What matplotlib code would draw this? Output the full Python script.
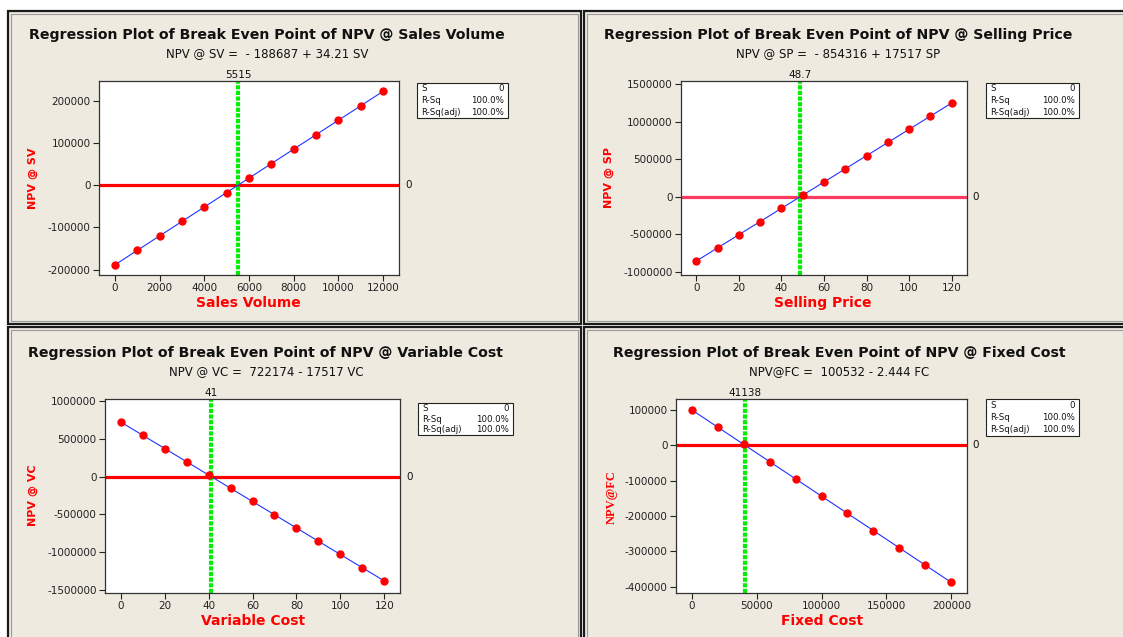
import matplotlib
matplotlib.use("Agg")
import matplotlib.pyplot as plt
from matplotlib.patches import Rectangle
from matplotlib.ticker import FuncFormatter

# break-even regression data
sv_x = [0, 1000, 2000, 3000, 4000, 5000, 6000, 7000, 8000, 9000, 10000, 11000, 12000]
sv_npv = [-188687, -154477, -120267, -86057, -51847, -17637, 16573, 50783,
          84993, 119203, 153413, 187623, 221833]
sv_be = 5515

sp_x = [0, 10, 20, 30, 40, 50, 60, 70, 80, 90, 100, 110, 120]
sp_npv = [-854316, -679146, -503976, -328806, -153636, 21534, 196704, 371874,
          547044, 722214, 897384, 1072554, 1247724]
sp_be = 48.7

vc_x = [0, 10, 20, 30, 40, 50, 60, 70, 80, 90, 100, 110, 120]
vc_npv = [722174, 547004, 371834, 196664, 21494, -153676, -328846, -504016,
          -679186, -854356, -1029526, -1204696, -1379866]
vc_be = 41

fc_x = [0, 20000, 40000, 60000, 80000, 100000, 120000, 140000, 160000, 180000, 200000]
fc_npv = [100532, 51652, 2772, -46108, -94988, -143868, -192748, -241628,
          -290508, -339388, -388268]
fc_be = 41138

titles = ["Regression Plot of Break Even Point of NPV @ Sales Volume",
          "Regression Plot of Break Even Point of NPV @ Selling Price",
          "Regression Plot of Break Even Point of NPV @ Variable Cost",
          "Regression Plot of Break Even Point of NPV @ Fixed Cost"]
equations = ["NPV @ SV =  - 188687 + 34.21 SV",
             "NPV @ SP =  - 854316 + 17517 SP",
             "NPV @ VC =  722174 - 17517 VC",
             "NPV@FC =  100532 - 2.444 FC"]
xlabels = ["Sales Volume", "Selling Price", "Variable Cost", "Fixed Cost"]
ylabels = ["NPV @ SV", "NPV @ SP", "NPV @ VC", "NPV@FC"]
be_labels = ["5515", "48.7", "41", "41138"]
stats_rows = [("S", "0"), ("R-Sq", "100.0%"), ("R-Sq(adj)", "100.0%")]

xticks = [list(range(0, 12001, 2000)), list(range(0, 121, 20)),
          list(range(0, 121, 20)), list(range(0, 200001, 50000))]
yticks = [list(range(-200000, 200001, 100000)),
          list(range(-1000000, 1500001, 500000)),
          list(range(-1500000, 1000001, 500000)),
          list(range(-400000, 100001, 100000))]

W, H = 1123, 637
BEIGE = "#eeeae0"
plt.rcParams["axes.unicode_minus"] = False

fig = plt.figure(figsize=(W / 100, H / 100), dpi=100, facecolor="white")
bg = fig.add_axes([0, 0, 1, 1])
bg.set_xlim(0, W)
bg.set_ylim(H, 0)
bg.axis("off")


def px_box(x0, y0, x1, y1):
    return [x0 / W, 1 - y1 / H, (x1 - x0) / W, (y1 - y0) / H]


plain = FuncFormatter(lambda v, pos: "%d" % round(v))

# table cells
for (x0, y0, x1, y1) in [(8, 11, 581, 324), (584, 11, 1135, 324),
                         (8, 327, 581, 650), (584, 327, 1135, 650)]:
    bg.add_patch(Rectangle((x0, y0), x1 - x0, y1 - y0, facecolor=BEIGE,
                           edgecolor="#1a1a1a", lw=1.6))
    bg.add_patch(Rectangle((x0 + 3, y0 + 3), x1 - x0 - 6, y1 - y0 - 6,
                           facecolor="none", edgecolor="#9a9a9a", lw=0.8))

panels = [
    dict(x=sv_x, y=sv_npv, be=sv_be, ax=(99, 81, 399, 275), xlim=(-720, 12720),
         ylim=(-213000, 246500), cx=267, ty=35, xl=(248, 303), yl=(33, 178),
         box=(417, 83, 508, 118), zero="red"),
    dict(x=sp_x, y=sp_npv, be=sp_be, ax=(681, 81, 967, 275), xlim=(-7.2, 127.2),
         ylim=(-1040000, 1540000), cx=838, ty=35, xl=(823, 303), yl=(609, 177),
         box=(986, 83, 1079, 118), zero="#ff3a60"),
    dict(x=vc_x, y=vc_npv, be=vc_be, ax=(105, 399, 400, 593), xlim=(-7.2, 127.2),
         ylim=(-1540000, 1027000), cx=266, ty=353, xl=(253, 621), yl=(33, 495),
         box=(418, 403, 513, 435), zero="red"),
    dict(x=fc_x, y=fc_npv, be=fc_be, ax=(676, 399, 967, 593), xlim=(-12000, 212000),
         ylim=(-418000, 131000), cx=839, ty=353, xl=(822, 621), yl=(612, 497),
         box=(986, 399, 1079, 436), zero="red"),
]

for i, p in enumerate(panels):
    bg.text(p["cx"], p["ty"], titles[i], ha="center", va="center",
            fontsize=10.2, fontweight="bold", color="#111111")
    bg.text(p["cx"], p["ty"] + 19, equations[i], ha="center", va="center",
            fontsize=8.5, color="#111111")
    bg.text(p["xl"][0], p["xl"][1], xlabels[i], ha="center", va="center",
            fontsize=10, fontweight="bold", color="#ff0000")
    if i == 3:
        bg.text(p["yl"][0], p["yl"][1], ylabels[i], ha="center", va="center",
                rotation=90, fontsize=9, fontweight="bold", color="#ff0000",
                family="Liberation Serif")
    else:
        bg.text(p["yl"][0], p["yl"][1], ylabels[i], ha="center", va="center",
                rotation=90, fontsize=8, fontweight="bold", color="#ff0000")

    # S / R-Sq summary box
    bx0, by0, bx1, by1 = p["box"]
    bg.add_patch(Rectangle((bx0, by0), bx1 - bx0, by1 - by0, facecolor="white",
                           edgecolor="#222222", lw=0.8))
    row_h = (by1 - by0) / 3
    for r, (name, val) in enumerate(stats_rows):
        yy = by0 + row_h * (r + 0.5)
        bg.text(bx0 + 4, yy, name, ha="left", va="center", fontsize=6.2, color="#111111")
        bg.text(bx1 - 4, yy, val, ha="right", va="center", fontsize=6.2, color="#111111")

    ax = fig.add_axes(px_box(*p["ax"]))
    ax.set_facecolor("white")
    ax.plot(p["x"], p["y"], color="#2233ff", lw=0.8, zorder=3)
    ax.plot(p["x"], p["y"], "o", color="#ff0000", ms=5, zorder=4)
    ax.axhline(0, color=p["zero"], lw=2.3, zorder=2)
    ax.axvline(p["be"], color="#00ee00", lw=3.0, linestyle=(0, (1, 0.35)), zorder=2)
    ax.set_xlim(*p["xlim"])
    ax.set_ylim(*p["ylim"])
    ax.set_xticks(xticks[i])
    ax.set_yticks(yticks[i])
    ax.xaxis.set_major_formatter(plain)
    ax.yaxis.set_major_formatter(plain)
    ax.tick_params(axis="both", labelsize=7.5, colors="#222222", length=4,
                   width=0.8, direction="out", pad=2)
    for s in ax.spines.values():
        s.set_color("#333333")
        s.set_linewidth(0.9)
    ax.text(p["be"], 1.005, be_labels[i], transform=ax.get_xaxis_transform(),
            ha="center", va="bottom", fontsize=7.5, color="#111111")
    ax.text(1.02, 0, "0", transform=ax.get_yaxis_transform(),
            ha="left", va="center", fontsize=7.5, color="#111111")

fig.savefig("out.png", dpi=100, facecolor="white")
